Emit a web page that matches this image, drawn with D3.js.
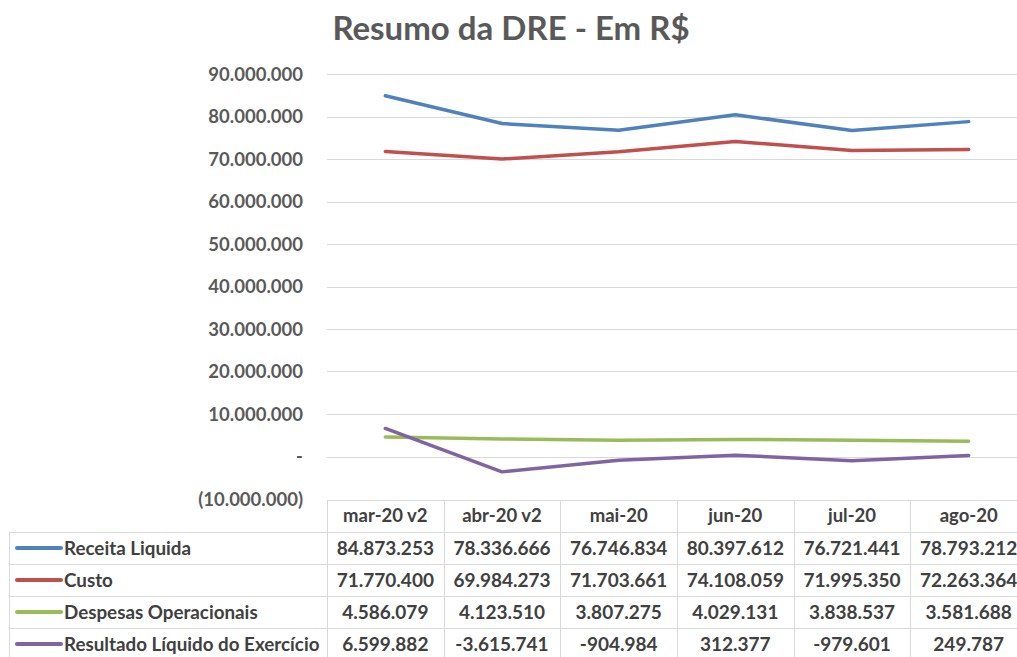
<!DOCTYPE html>
<html>
<head>
<meta charset="utf-8">
<script src="https://cdn.jsdelivr.net/npm/d3@7"></script>
<style>
  html, body { margin: 0; padding: 0; background: #fff; }
  svg { display: block; }
</style>
</head>
<body>
<svg width="1017" height="657"></svg>
<script>
/* ===============================
   Data
   =============================== */
let months = ["mar-20 v2", "abr-20 v2", "mai-20", "jun-20", "jul-20", "ago-20"];
let seriesNames = ["Receita Liquida", "Custo", "Despesas Operacionais", "Resultado Líquido do Exercício"];
let receita = [84873253, 78336666, 76746834, 80397612, 76721441, 78793212];
let custo = [71770400, 69984273, 71703661, 74108059, 71995350, 72263364];
let despesas = [4586079, 4123510, 3807275, 4029131, 3838537, 3581688];
let resultado = [6599882, -3615741, -904984, 312377, -979601, 249787];
let yTicks = [-10000000, 0, 10000000, 20000000, 30000000, 40000000, 50000000, 60000000, 70000000, 80000000, 90000000];
let colors = ["#4f81bd", "#c0504d", "#9bbb59", "#8064a2"];

let allSeries = [receita, custo, despesas, resultado];

/* ===============================
   Number format (pt-BR style)
   =============================== */
let locale = d3.formatLocale({ decimal: ",", thousands: ".", grouping: [3], currency: ["R$", ""], minus: "-" });
let fmt = locale.format(",d");
function axisFmt(v) {
    if (v === 0) return "-";
    if (v < 0) return "(" + fmt(-v) + ")";
    return fmt(v);
}

/* ===============================
   Layout
   =============================== */
let svg = d3.select("svg");
let font = "Lato, 'Open Sans', sans-serif";
let plotLeft = 327;
let plotRight = 1027;
let plotTop = 74;
let plotBottom = 499;
let rowH = 32;
let tableTop = 500;
let tableLeft = 9;

let x = d3.scaleBand().domain(months).range([plotLeft, plotRight]).padding(0);
let y = d3.scaleLinear().domain([-10000000, 90000000]).range([plotBottom, plotTop]);

/* ===============================
   Title
   =============================== */
svg.append("text")
    .attr("x", 511)
    .attr("y", 40)
    .attr("text-anchor", "middle")
    .attr("font-family", font)
    .attr("font-weight", "bold")
    .attr("font-size", 33)
    .attr("fill", "#595959")
    .text("Resumo da DRE - Em R$");

/* ===============================
   Gridlines and y axis
   =============================== */
svg.append("g")
    .selectAll("line")
    .data(yTicks.filter(d => d > -10000000))
    .join("line")
    .attr("x1", plotLeft)
    .attr("x2", 1017)
    .attr("y1", d => Math.round(y(d)) + 0.5)
    .attr("y2", d => Math.round(y(d)) + 0.5)
    .attr("stroke", "#d9d9d9")
    .attr("stroke-width", 1);

let yAxis = svg.append("g")
    .attr("transform", "translate(" + (plotLeft - 24) + ",0)")
    .call(d3.axisLeft(y).tickValues(yTicks).tickFormat(axisFmt).tickSize(0).tickPadding(0));
yAxis.select(".domain").remove();
yAxis.selectAll("text")
    .attr("font-family", font)
    .attr("font-weight", "bold")
    .attr("font-size", 18.5)
    .attr("fill", "#595959")
    .attr("dy", "0.35em");

/* ===============================
   Lines
   =============================== */
let line = d3.line()
    .x((d, i) => x(months[i]) + x.bandwidth() / 2)
    .y(d => y(d));

svg.append("g")
    .selectAll("path")
    .data(allSeries)
    .join("path")
    .attr("d", d => line(d))
    .attr("fill", "none")
    .attr("stroke", (d, i) => colors[i])
    .attr("stroke-width", 3.5)
    .attr("stroke-linejoin", "round")
    .attr("stroke-linecap", "round");

/* ===============================
   Data table
   =============================== */
let table = svg.append("g");
let gridColor = "#d9d9d9";
let tableBottom = tableTop + rowH * 5;

// header top border (only over month columns)
table.append("line")
    .attr("x1", plotLeft).attr("x2", plotRight)
    .attr("y1", tableTop + 0.5).attr("y2", tableTop + 0.5)
    .attr("stroke", gridColor);

// row borders
table.selectAll(".hrow")
    .data(d3.range(1, 5))
    .join("line")
    .attr("x1", tableLeft).attr("x2", plotRight)
    .attr("y1", d => tableTop + d * rowH + 0.5)
    .attr("y2", d => tableTop + d * rowH + 0.5)
    .attr("stroke", gridColor);

// vertical borders
table.selectAll(".vcol")
    .data(months)
    .join("line")
    .attr("x1", d => Math.round(x(d)) + 0.5)
    .attr("x2", d => Math.round(x(d)) + 0.5)
    .attr("y1", tableTop)
    .attr("y2", tableBottom)
    .attr("stroke", gridColor);

table.append("line")
    .attr("x1", tableLeft + 0.5).attr("x2", tableLeft + 0.5)
    .attr("y1", tableTop + rowH).attr("y2", tableBottom)
    .attr("stroke", gridColor);

// header labels
table.selectAll(".hdr")
    .data(months)
    .join("text")
    .attr("x", d => x(d) + x.bandwidth() / 2)
    .attr("y", tableTop + rowH / 2)
    .attr("dy", "0.35em")
    .attr("text-anchor", "middle")
    .attr("font-family", font)
    .attr("font-weight", "bold")
    .attr("font-size", 18.5)
    .attr("fill", "#404040")
    .text(d => d);

// legend keys + series names
let rows = table.selectAll(".row")
    .data(seriesNames)
    .join("g")
    .attr("transform", (d, i) => "translate(0," + (tableTop + (i + 1) * rowH + rowH / 2) + ")");

rows.append("line")
    .attr("x1", 17).attr("x2", 61)
    .attr("y1", 0).attr("y2", 0)
    .attr("stroke", (d, i) => colors[i])
    .attr("stroke-width", 4)
    .attr("stroke-linecap", "round");

rows.append("text")
    .attr("x", 64)
    .attr("dy", "0.35em")
    .attr("font-family", font)
    .attr("font-weight", "bold")
    .attr("font-size", 18.8)
    .attr("fill", "#404040")
    .text(d => d);

// values
rows.each(function (name, i) {
    d3.select(this).selectAll(".val")
        .data(allSeries[i])
        .join("text")
        .attr("x", (v, j) => x(months[j]) + x.bandwidth() / 2)
        .attr("dy", "0.35em")
        .attr("text-anchor", "middle")
        .attr("font-family", font)
        .attr("font-weight", "bold")
        .attr("font-size", 19)
        .attr("fill", "#404040")
        .text(v => fmt(v));
});
</script>
</body>
</html>
